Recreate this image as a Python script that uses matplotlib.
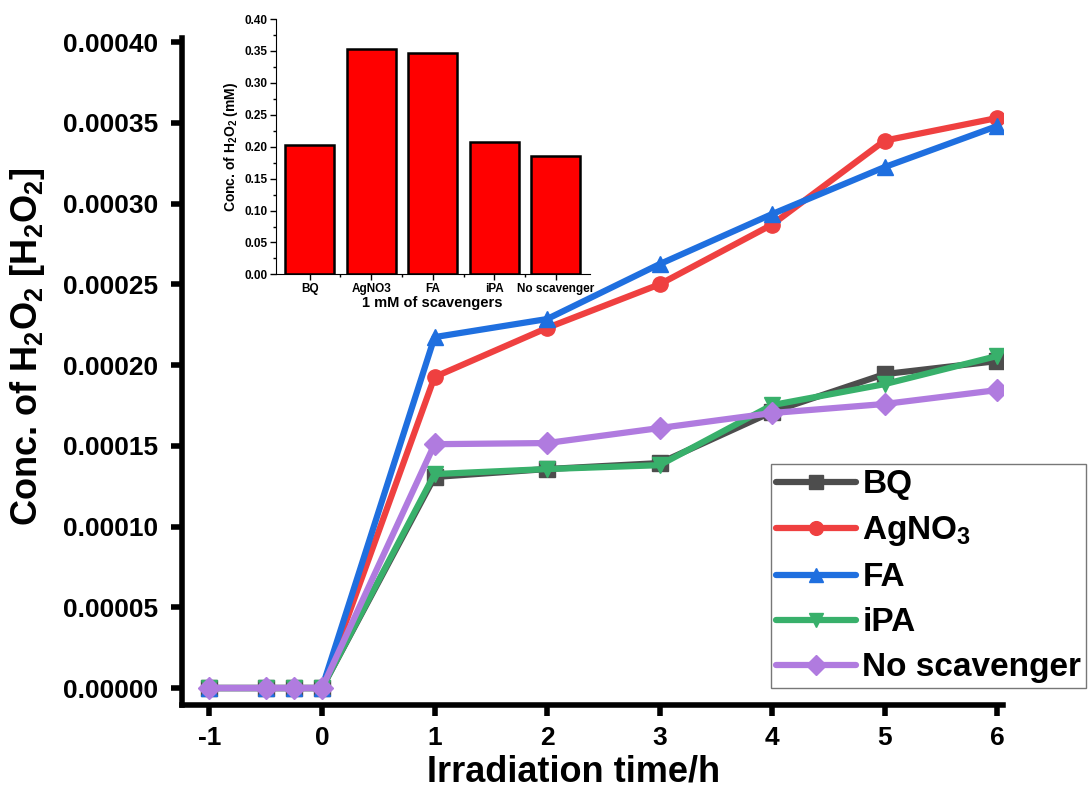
"""H2O2 evolution with scavengers, with an inset bar chart of the 6 h values."""

import matplotlib
matplotlib.use('Agg')
import matplotlib.pyplot as plt

plt.rcParams['font.family'] = ['Liberation Sans', 'DejaVu Sans']
plt.rcParams['font.weight'] = 'bold'
plt.rcParams['mathtext.fontset'] = 'custom'
plt.rcParams['mathtext.rm'] = 'Liberation Sans:bold'
plt.rcParams['mathtext.bf'] = 'Liberation Sans:bold'
plt.rcParams['mathtext.default'] = 'bf'

# Irradiation time (h); negative values are the dark period
TIME = [-1, -0.5, -0.25, 0, 1, 2, 3, 4, 5, 6]

BQ = [0, 0, 0, 0, 0.0001307, 0.0001356, 0.0001393, 0.000171, 0.0001944, 0.0002025]
AGNO3 = [0, 0, 0, 0, 0.0001926, 0.000223, 0.00025, 0.000287, 0.000339, 0.000353]
FA = [0, 0, 0, 0, 0.0002173, 0.0002285, 0.0002625, 0.0002935, 0.0003226, 0.000348]
IPA = [0, 0, 0, 0, 0.0001325, 0.0001356, 0.000138, 0.0001752, 0.0001882, 0.0002056]
NO_SCAV = [0, 0, 0, 0, 0.000151, 0.0001517, 0.000161, 0.0001703, 0.0001759, 0.0001845]

SERIES = [
    ('BQ', BQ, '#4d4d4d', 's'),
    ('AgNO$_3$', AGNO3, '#ef4040', 'o'),
    ('FA', FA, '#1f6fdf', '^'),
    ('iPA', IPA, '#38b06b', 'v'),
    ('No scavenger', NO_SCAV, '#b07bdf', 'D'),
]

X_TICKS = [-1, 0, 1, 2, 3, 4, 5, 6]
Y_TICKS = [0.0, 0.00005, 0.0001, 0.00015, 0.0002, 0.00025, 0.0003, 0.00035, 0.0004]

# Inset: concentration after 6 h (mM)
INSET_LABELS = ['BQ', 'AgNO3', 'FA', 'iPA', 'No scavenger']
INSET_VALUES = [0.202, 0.353, 0.347, 0.207, 0.185]
INSET_TICKS = [0.0, 0.05, 0.10, 0.15, 0.20, 0.25, 0.30, 0.35, 0.40]


fig = plt.figure(figsize=(10.9, 7.93), dpi=100)
ax = fig.add_axes([0.167, 0.111, 0.753, 0.841])

for label, values, color, marker in SERIES:
    ax.plot(TIME, values, color=color, marker=marker, markersize=11,
            linewidth=4.5, label=label, solid_joinstyle='round',
            solid_capstyle='round')

ax.set_xlim(-1.244, 6.05)
ax.set_ylim(-0.0000105, 0.0004025)
ax.set_xticks(X_TICKS)
ax.set_xticklabels([str(t) for t in X_TICKS])
ax.set_yticks(Y_TICKS)
ax.set_yticklabels([f'{v:.5f}' for v in Y_TICKS])

for side in ('top', 'right'):
    ax.spines[side].set_visible(False)
for side in ('left', 'bottom'):
    ax.spines[side].set_linewidth(4)

ax.tick_params(axis='y', direction='out', length=8, width=4, labelsize=19, pad=9)
ax.tick_params(axis='x', direction='out', length=8, width=4, labelsize=19, pad=7)
for lab in ax.get_xticklabels() + ax.get_yticklabels():
    lab.set_fontweight('bold')

ax.set_xlabel('Irradiation time/h', fontsize=26, fontweight='bold')
ax.set_ylabel('Conc. of H$_2$O$_2$ [H$_2$O$_2$]', fontsize=26, fontweight='bold')
ax.xaxis.set_label_coords(0.477, -0.075)
ax.yaxis.set_label_coords(-0.165, 0.537)

leg = ax.legend(loc='lower left', bbox_to_anchor=(0.707, 0.132),
                bbox_transform=fig.transFigure, fontsize=24,
                frameon=True, fancybox=False, handlelength=2.4, borderpad=0.15,
                labelspacing=0.42, handletextpad=0.2, borderaxespad=0,
                markerscale=0.9)
leg.get_frame().set_edgecolor('#555555')
leg.get_frame().set_linewidth(1.0)
for txt in leg.get_texts():
    txt.set_fontweight('bold')

# Inset bar chart
inset = fig.add_axes([0.253, 0.654, 0.288, 0.322])
positions = list(range(len(INSET_LABELS)))
inset.bar(positions, INSET_VALUES, width=0.8, color='#ff0000', edgecolor='black', linewidth=1.8)
inset.set_ylim(0, 0.40)
inset.set_xlim(-0.55, 4.55)
inset.set_yticks(INSET_TICKS)
inset.set_yticklabels([f'{v:.2f}' for v in INSET_TICKS])
inset.set_yticks([v + 0.025 for v in INSET_TICKS[:-1]], minor=True)
inset.set_xticks(positions)
inset.set_xticklabels(INSET_LABELS)
inset.set_xticks([p + 0.5 for p in positions[:-1]], minor=True)
inset.tick_params(axis='both', which='major', length=4, width=1, labelsize=8.5, pad=2)
inset.tick_params(axis='both', which='minor', length=2, width=1)
for lab in inset.get_xticklabels() + inset.get_yticklabels():
    lab.set_fontweight('bold')
for side in ('top', 'right'):
    inset.spines[side].set_visible(False)
inset.set_xlabel('1 mM of scavengers', fontsize=10.5, fontweight='bold', labelpad=1)
inset.set_ylabel('Conc. of H$_2$O$_2$ (mM)', fontsize=10, fontweight='bold', labelpad=3)

fig.savefig('out.png', dpi=100)
